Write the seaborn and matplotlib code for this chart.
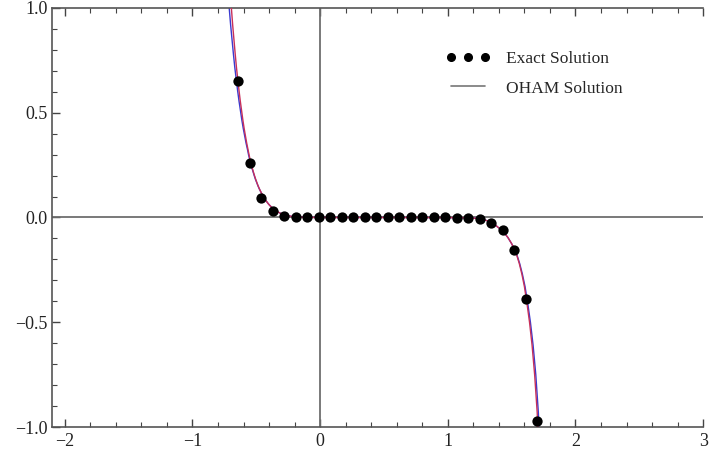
import matplotlib
matplotlib.use("Agg")
import matplotlib.pyplot as plt
from matplotlib.lines import Line2D
from matplotlib.legend_handler import HandlerLine2D
from matplotlib.ticker import MultipleLocator, FuncFormatter
import seaborn as sns
import pandas as pd

# Exact solution sample points (dots)
dot_x = [-0.64, -0.55, -0.46, -0.37, -0.28, -0.19, -0.10, -0.01, 0.08, 0.17,
         0.26, 0.35, 0.44, 0.53, 0.62, 0.71, 0.80, 0.89, 0.98, 1.07,
         1.16, 1.25, 1.34, 1.43, 1.52, 1.61, 1.70]
dot_y = [0.65, 0.26, 0.095, 0.032, 0.008, 0.002, 0.0, 0.0, 0.0, 0.0,
         0.0, 0.0, 0.0, 0.0, 0.0, 0.0, 0.0, 0.0, 0.0, -0.001,
         -0.002, -0.007, -0.026, -0.062, -0.155, -0.39, -0.97]

# Exact solution curve (red)
exact_x = [-0.695, -0.685, -0.675, -0.665, -0.655, -0.645, -0.635, -0.625, -0.615, -0.605,
           -0.595, -0.585, -0.575, -0.565, -0.555, -0.545, -0.535, -0.525, -0.515, -0.505,
           -0.495, -0.485, -0.475, -0.465, -0.455, -0.445, -0.435, -0.425, -0.415, -0.405,
           -0.395, -0.38, -0.365, -0.35, -0.335, -0.32, -0.30, -0.28, -0.26, -0.23,
           -0.20, -0.15, -0.10, 0.0, 0.5, 1.0, 1.1, 1.15, 1.2, 1.23,
           1.26, 1.29, 1.32, 1.35, 1.38, 1.41, 1.44, 1.47, 1.50, 1.52,
           1.54, 1.56, 1.58, 1.60, 1.62, 1.64, 1.66, 1.68, 1.70, 1.705]
exact_y = [1.0, 0.92, 0.85, 0.78, 0.715, 0.66, 0.605, 0.555, 0.51, 0.465,
           0.425, 0.39, 0.355, 0.325, 0.295, 0.268, 0.244, 0.222, 0.202, 0.183,
           0.166, 0.150, 0.136, 0.123, 0.111, 0.100, 0.090, 0.081, 0.073, 0.065,
           0.058, 0.049, 0.041, 0.034, 0.028, 0.023, 0.017, 0.012, 0.009, 0.006,
           0.003, 0.0015, 0.0005, 0.0, 0.0, -0.0005, -0.001, -0.002, -0.003, -0.005,
           -0.008, -0.012, -0.018, -0.028, -0.04, -0.055, -0.072, -0.095, -0.125, -0.15,
           -0.18, -0.22, -0.27, -0.33, -0.41, -0.50, -0.61, -0.75, -0.93, -1.0]

# OHAM solution curve (blue): nearly identical, slightly offset at the ends
oham_x = [-0.712, -0.701, -0.690, -0.679, -0.668, -0.657, -0.646, -0.635, -0.624, -0.613,
          -0.602, -0.591, -0.580, -0.569, -0.559, -0.548, -0.538, -0.527, -0.517, -0.507,
          -0.496, -0.486, -0.476, -0.465, -0.455, -0.445, -0.435, -0.425, -0.415, -0.405,
          -0.395, -0.38, -0.365, -0.35, -0.335, -0.32, -0.30, -0.28, -0.26, -0.23,
          -0.20, -0.15, -0.10, 0.0, 0.5, 1.0, 1.1, 1.15, 1.2, 1.23,
          1.26, 1.29, 1.32, 1.35, 1.38, 1.41, 1.44, 1.47, 1.50, 1.521,
          1.542, 1.563, 1.584, 1.605, 1.626, 1.647, 1.668, 1.689, 1.709, 1.715]
oham_y = exact_y

legend_labels = ["Exact Solution", "OHAM Solution"]


def fmt_y(v, pos):
    s = "%.1f" % v
    return s.replace("-", "\u2212")


def fmt_x(v, pos):
    s = "%d" % round(v)
    return s.replace("-", "\u2212")


sns.set_theme(style="ticks")
plt.rcParams['font.family'] = ['Liberation Serif', 'DejaVu Serif']
plt.rcParams['axes.unicode_minus'] = True

fig = plt.figure(figsize=(7.09, 4.55), dpi=100)
ax = fig.add_axes([0.0733, 0.0615, 0.9185, 0.921])
ax.set_facecolor("white")
fig.patch.set_facecolor("white")

ax.axhline(0, color="#6e6e6e", lw=1.3, zorder=1)
ax.axvline(0, color="#6e6e6e", lw=1.3, zorder=1)

df_e = pd.DataFrame({"x": exact_x, "y": exact_y})
df_o = pd.DataFrame({"x": oham_x, "y": oham_y})
df_d = pd.DataFrame({"x": dot_x, "y": dot_y})

sns.lineplot(data=df_o, x="x", y="y", ax=ax, color="#3a3ad0", lw=1.0,
             sort=False, estimator=None, zorder=2)
sns.lineplot(data=df_e, x="x", y="y", ax=ax, color="#c8305a", lw=1.0,
             sort=False, estimator=None, zorder=3)
sns.scatterplot(data=df_d, x="x", y="y", ax=ax, color="black", s=55,
                edgecolor="black", linewidth=0, zorder=4)

ax.set_xlim(-2.1, 3.0)
ax.set_ylim(-1.0, 1.0)
ax.set_xlabel("")
ax.set_ylabel("")

ax.xaxis.set_major_locator(MultipleLocator(1))
ax.xaxis.set_minor_locator(MultipleLocator(0.2))
ax.yaxis.set_major_locator(MultipleLocator(0.5))
ax.yaxis.set_minor_locator(MultipleLocator(0.1))
ax.yaxis.set_major_formatter(FuncFormatter(fmt_y))
ax.xaxis.set_major_formatter(FuncFormatter(fmt_x))

for s in ["left", "bottom", "top"]:
    ax.spines[s].set_color("#555555")
    ax.spines[s].set_linewidth(1.2)
ax.spines["right"].set_visible(False)

ax.tick_params(which="both", direction="in", top=True, right=False,
               color="#444444", labelsize=13, labelcolor="#222222")
ax.tick_params(which="major", length=6, width=1.0)
ax.tick_params(which="minor", length=3.5, width=0.8)
ax.tick_params(axis="x", pad=4)
ax.tick_params(axis="y", pad=3)

h1 = Line2D([0], [0], marker="o", color="black", linestyle="None",
            markersize=5.5)
h2 = Line2D([0], [0], color="#777777", lw=1.2)
leg = ax.legend([h1, h2], legend_labels,
                loc="upper left", bbox_to_anchor=(0.580, 0.934), frameon=False,
                fontsize=12.5, numpoints=3, handlelength=2.6, handletextpad=0.9,
                labelspacing=0.75,
                handler_map={h2: HandlerLine2D(ypad=-1.3)})

fig.savefig("out.png", dpi=100, facecolor="white")
